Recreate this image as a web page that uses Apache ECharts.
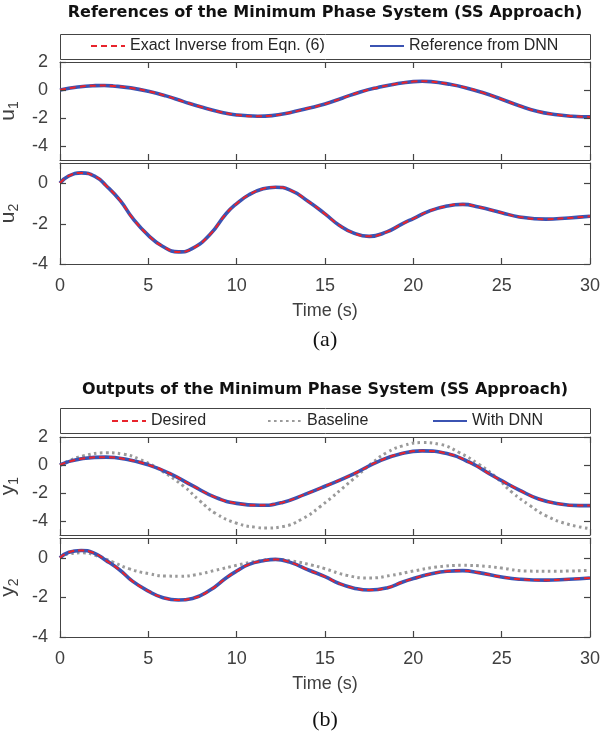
<!DOCTYPE html>
<html>
<head>
<meta charset="utf-8">
<script src="https://cdn.jsdelivr.net/npm/echarts@6/dist/echarts.min.js"></script>
<style>
  html, body { margin: 0; padding: 0; background: #fff; }
  #chart { width: 601px; height: 739px; }
</style>
</head>
<body>
<div id="chart"></div>
<script>
// (a) references: exact inverse and DNN reference lie on top of each other
const tU1 = [0, 1, 2, 2.5, 3, 4, 5, 6, 7, 8, 9, 10, 11.2, 12, 13, 14, 15, 16, 17, 18, 19, 20, 20.5, 21, 22, 23, 24,
  25, 26, 27, 28, 29, 30]
const u1Ref = [0, 0.22, 0.31, 0.32, 0.29, 0.15, -0.09, -0.42, -0.83, -1.22, -1.55, -1.78, -1.87, -1.83, -1.62, -1.32,
  -1.0, -0.57, -0.14, 0.18, 0.43, 0.6, 0.63, 0.6, 0.42, 0.15, -0.22, -0.66, -1.13, -1.52, -1.75, -1.87, -1.92]

const tU2 = [0, 0.5, 1.2, 2, 2.6, 3.4, 4.1, 5, 5.8, 6.7, 7.5, 8.5, 9.4, 10, 10.7, 11.5, 12.2, 13, 14.1, 15, 15.8,
  16.6, 17.5, 18.5, 19.4, 20, 20.9, 21.9, 22.8, 23.7, 25, 26, 27.5, 28.8, 30]
const u2Ref = [0, 0.36, 0.51, 0.33, -0.11, -0.85, -1.72, -2.58, -3.12, -3.4, -3.23, -2.53, -1.51, -1.01, -0.57,
  -0.28, -0.2, -0.33, -0.93, -1.52, -2.08, -2.46, -2.63, -2.41, -2.0, -1.75, -1.38, -1.13, -1.05, -1.18, -1.46,
  -1.67, -1.78, -1.72, -1.64]

// (b) outputs: desired and "with DNN" lie on top of each other
const tY1 = [0, 1.3, 2.6, 3.75, 5, 6.2, 7.5, 8.8, 10, 11.3, 12.6, 13.9, 15, 16.6, 18.1, 19.4, 20.5, 21.9, 23.2,
  24.5, 25, 26, 27.1, 28.3, 29.4, 30]
const y1Desired = [0, 0.46, 0.56, 0.41, 0.01, -0.6, -1.48, -2.31, -2.74, -2.88, -2.67, -2.08, -1.52, -0.65, 0.3,
  0.84, 1.01, 0.82, 0.18, -0.77, -1.12, -1.79, -2.43, -2.79, -2.9, -2.9]

const tY1Base = [0, 0.5, 1.3, 2.6, 3.6, 4.5, 5.6, 7, 7.9, 8.8, 10, 11.1, 11.7, 12.6, 13.7, 14.7, 16.6, 17.7, 18.5,
  19.4, 20.5, 21.5, 22.6, 23.7, 24.7, 25.6, 26.6, 27.5, 28.7, 30]
const y1Baseline = [0, 0.3, 0.65, 0.87, 0.77, 0.41, -0.3, -1.52, -2.55, -3.45, -4.16, -4.45, -4.5, -4.4, -3.86,
  -3.0, -1.01, 0.18, 0.89, 1.37, 1.6, 1.48, 0.89, 0.06, -0.89, -1.96, -2.9, -3.62, -4.21, -4.55]

const tY2 = [0, 0.5, 1.2, 1.9, 2.6, 3.4, 4.1, 5, 5.8, 6.7, 7.5, 8.5, 9.4, 10, 10.7, 11.5, 12.2, 13, 14.1, 15, 15.8,
  16.6, 17.5, 18.5, 19.4, 20, 20.9, 21.9, 22.8, 23.7, 25, 26, 27.5, 28.8, 30]
const y2Desired = [0, 0.28, 0.37, 0.25, -0.13, -0.63, -1.18, -1.68, -2.0, -2.13, -2.05, -1.63, -1.02, -0.67, -0.33,
  -0.15, -0.08, -0.22, -0.63, -0.95, -1.3, -1.52, -1.63, -1.52, -1.22, -1.05, -0.83, -0.68, -0.65, -0.75, -0.97,
  -1.08, -1.13, -1.08, -1.02]

const tY2Base = [0, 0.5, 1.3, 2, 3, 3.9, 5, 6, 6.8, 7.7, 8.8, 10, 11.1, 12.2, 13.2, 14.3, 15, 16.2, 17.5, 18.8, 20,
  21.3, 22.8, 24.1, 25, 26.4, 27.9, 30]
const y2Baseline = [0, 0.2, 0.25, 0.12, -0.22, -0.55, -0.8, -0.92, -0.93, -0.85, -0.63, -0.38, -0.18, -0.08, -0.17,
  -0.38, -0.55, -0.88, -1.02, -0.88, -0.67, -0.47, -0.38, -0.43, -0.52, -0.67, -0.68, -0.63]

// tick labels
const yTicksTall = [-4, -2, 0, 2]   // u1, y1 (range -5..2)
const yTicksShort = [-4, -2, 0]     // u2, y2 (range -4..1)

const SANS = '"Liberation Sans", Arial, sans-serif'
const TICK_COLOR = '#404040'
const BOX_COLOR = '#444'
const RED = '#e8242c'
const BLUE = '#3b53b2'
const GRAY = '#9a9a9a'

// panel layout: u1, u2, y1, y2
const panels = [
  { top: 62, height: 98, min: -5, max: 2, ticks: yTicksTall, sym: 'u', sub: '1', labels: false },
  { top: 163, height: 101, min: -4, max: 1, ticks: yTicksShort, sym: 'u', sub: '2', labels: true },
  { top: 437, height: 98, min: -5, max: 2, ticks: yTicksTall, sym: 'y', sub: '1', labels: false },
  { top: 538, height: 99, min: -4, max: 1, ticks: yTicksShort, sym: 'y', sub: '2', labels: true }
]

// fixed plot boxes, no automatic shrinking for labels
const grid = panels.map(p => ({
  left: 60, width: 530, top: p.top, height: p.height,
  containLabel: false, outerBoundsMode: 'none'
}))

const boxLine = { show: true, onZero: false, lineStyle: { color: BOX_COLOR, width: 1 } }
const xTick = { show: true, inside: true, length: 6, lineStyle: { color: BOX_COLOR, width: 1.2 } }

const xAxis = []
const yAxis = []
panels.forEach((p, i) => {
  xAxis.push({
    type: 'value', gridIndex: i, min: 0, max: 30, interval: 5, position: 'bottom',
    axisLine: boxLine, axisTick: xTick,
    axisLabel: { show: p.labels, color: TICK_COLOR, fontSize: 18, fontFamily: SANS, margin: 13 },
    splitLine: { show: false },
    name: p.labels ? 'Time (s)' : '',
    nameLocation: 'middle', nameGap: 38,
    nameTextStyle: { color: TICK_COLOR, fontSize: 18, fontFamily: SANS }
  })
  yAxis.push({
    type: 'value', gridIndex: i, min: p.min, max: p.max, position: 'left',
    axisLine: boxLine, axisTick: { show: false },
    axisLabel: { color: TICK_COLOR, fontSize: 18, fontFamily: SANS, margin: 12, customValues: p.ticks },
    splitLine: { show: false },
    name: '{b|' + p.sym + '}{s|' + p.sub + '}',
    nameLocation: 'middle', nameGap: 34, nameRotate: 90,
    nameTextStyle: {
      color: TICK_COLOR,
      rich: {
        b: { fontSize: 21, fontFamily: SANS, color: TICK_COLOR, lineHeight: 26 },
        s: { fontSize: 14, fontFamily: SANS, color: TICK_COLOR, lineHeight: 14, verticalAlign: 'bottom' }
      }
    }
  })
})
// top / right edges of the box
panels.forEach((p, i) => {
  xAxis.push({
    type: 'value', gridIndex: i, min: 0, max: 30, interval: 5, position: 'top',
    axisLine: boxLine, axisTick: xTick,
    axisLabel: { show: false }, splitLine: { show: false }
  })
  yAxis.push({
    type: 'value', gridIndex: i, min: p.min, max: p.max, position: 'right',
    axisLine: boxLine, axisTick: { show: false },
    axisLabel: { show: false }, splitLine: { show: false }
  })
})

const pairs = (ts, vals) => ts.map((t, k) => [t, vals[k]])

const redLine = (name, ts, vals, i) => ({
  name, type: 'line', xAxisIndex: i, yAxisIndex: i, data: pairs(ts, vals),
  symbol: 'none', smooth: 0.5, z: 4,
  lineStyle: { color: RED, width: 2, type: [6, 4] }, itemStyle: { color: RED }
})
const blueLine = (name, ts, vals, i) => ({
  name, type: 'line', xAxisIndex: i, yAxisIndex: i, data: pairs(ts, vals),
  symbol: 'none', smooth: 0.5, z: 3,
  lineStyle: { color: BLUE, width: 3.6 }, itemStyle: { color: BLUE }
})
const grayLine = (name, ts, vals, i) => ({
  name, type: 'line', xAxisIndex: i, yAxisIndex: i, data: pairs(ts, vals),
  symbol: 'none', smooth: 0.5, z: 2,
  lineStyle: { color: GRAY, width: 3, type: [2.6, 3.4] }, itemStyle: { color: GRAY }
})
// inward y ticks on the left and right box edges, placed by the y scale
const yTickMarks = (ticks, i) => ({
  type: 'custom', xAxisIndex: i, yAxisIndex: i, silent: true, z: 5,
  data: ticks.map(v => [0, v]),
  renderItem: (params, api) => {
    const l = api.coord([0, api.value(1)])
    const r = api.coord([30, api.value(1)])
    const y = Math.round(l[1]) + 0.5
    const st = { stroke: BOX_COLOR, lineWidth: 1.2 }
    return {
      type: 'group', children: [
        { type: 'line', shape: { x1: l[0], y1: y, x2: l[0] + 6, y2: y }, style: st },
        { type: 'line', shape: { x1: r[0], y1: y, x2: r[0] - 6, y2: y }, style: st }
      ]
    }
  }
})

const series = [
  redLine('Exact Inverse from Eqn. (6)', tU1, u1Ref, 0),
  blueLine('Reference from DNN', tU1, u1Ref, 0),
  redLine('Exact Inverse from Eqn. (6)', tU2, u2Ref, 1),
  blueLine('Reference from DNN', tU2, u2Ref, 1),
  redLine('Desired', tY1, y1Desired, 2),
  grayLine('Baseline', tY1Base, y1Baseline, 2),
  blueLine('With DNN', tY1, y1Desired, 2),
  redLine('Desired', tY2, y2Desired, 3),
  grayLine('Baseline', tY2Base, y2Baseline, 3),
  blueLine('With DNN', tY2, y2Desired, 3)
].concat(panels.map((p, i) => yTickMarks(p.ticks, i)))

const legendItem = (name, left, top) => ({
  data: [name], left, top, padding: 0, itemWidth: 34, itemHeight: 12,
  selectedMode: false,
  itemStyle: { color: 'transparent', borderColor: 'transparent', borderWidth: 0, opacity: 0 },
  textStyle: { color: '#262626', fontSize: 16, fontFamily: SANS }
})
const legend = [
  legendItem('Exact Inverse from Eqn. (6)', 90, 38),
  legendItem('Reference from DNN', 369, 38),
  legendItem('Desired', 111, 413),
  legendItem('Baseline', 267, 413),
  legendItem('With DNN', 432, 413)
]

const textEl = (text, x, y, font, fill) => ({
  type: 'text', x, y, silent: true,
  style: { text, font, fill, align: 'center', verticalAlign: 'middle' }
})
const graphic = [
  { type: 'rect', shape: { x: 60.5, y: 34.5, width: 530, height: 25 },
    style: { fill: 'none', stroke: BOX_COLOR, lineWidth: 1 }, silent: true },
  { type: 'rect', shape: { x: 60.5, y: 408.5, width: 530, height: 25 },
    style: { fill: 'none', stroke: BOX_COLOR, lineWidth: 1 }, silent: true },
  textEl('References of the Minimum Phase System (SS Approach)', 325, 13, 'bold 16px "DejaVu Sans"', '#111'),
  textEl('Outputs of the Minimum Phase System (SS Approach)', 325, 390, 'bold 16px "DejaVu Sans"', '#111'),
  textEl('(a)', 325, 340, '22px "Liberation Serif"', '#111'),
  textEl('(b)', 325, 720, '22px "Liberation Serif"', '#111')
]

const chart = echarts.init(document.getElementById('chart'), null, { renderer: 'canvas' })
chart.setOption({
  backgroundColor: '#fff',
  animation: false,
  grid, xAxis, yAxis, series, legend, graphic
})
</script>
</body>
</html>
